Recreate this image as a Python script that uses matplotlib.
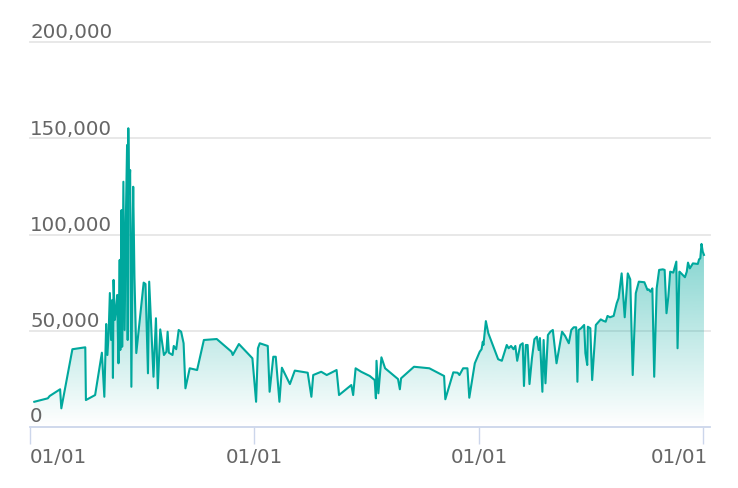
import numpy as np
import matplotlib
matplotlib.use("Agg")
import matplotlib.pyplot as plt
import matplotlib.dates as mdates
from matplotlib.colors import to_rgb
from matplotlib.transforms import blended_transform_factory, ScaledTranslation

# days counted from base_date
base_date = np.datetime64("2019-01-03")
day_offsets = [
    5, 27, 30, 47, 49, 67, 88, 89, 104, 115,
    119, 122, 124, 126, 128, 130, 132, 133, 134, 136,
    138, 140, 141, 142, 144, 145, 147, 148, 150, 152,
    154, 156, 157, 158, 159, 161, 162, 163, 165, 166,
    168, 171,
    183, 186, 190, 192, 199, 203, 206, 210, 216, 220,
    222, 224, 230, 232, 236, 240, 244, 248, 251, 258,
    270, 281, 302, 326, 328, 338, 360, 366, 369, 372,
    385, 388, 394, 398, 404, 408, 421, 429, 450, 456,
    459, 472, 481, 497, 501, 521, 524, 528, 537,
    551, 559, 561, 562, 565, 570, 576, 589, 597, 600,
    602, 623, 648, 672, 674, 687, 694, 697, 703, 710,
    713, 722, 730, 733, 735, 736, 740, 744,
    760, 766, 774, 777, 781, 785, 788, 791, 796, 800,
    802, 805, 808, 811, 815, 819, 823, 826, 828, 832,
    834, 837, 841, 845, 849, 855, 864, 869, 875, 879,
    883, 887, 889, 891, 895, 900, 902, 905, 906, 910,
    913, 919, 927, 931, 935, 938, 942, 948, 953, 956,
    961, 966, 971, 975, 979, 984, 989, 998, 1003, 1005,
    1008, 1011, 1014, 1018, 1022, 1028, 1031, 1034, 1037, 1040,
    1045, 1050, 1052, 1055, 1058, 1064, 1067, 1069, 1072, 1077,
    1085, 1087, 1089, 1091, 1093, 1095,
]
values = [
    13100, 14900, 16100, 19600, 9700, 40400, 41400, 14000, 16600, 38600,
    15700, 53500, 37400, 48800, 69600, 45200, 66000, 25500, 76400, 55600,
    60800, 68600, 48700, 33100, 86800, 40000, 112700, 41700, 127400, 50400,
    107500, 146500, 45200, 155200, 121400, 133500, 72900, 20900, 100800, 124800,
    78100, 38400,
    75000, 74300, 27900, 75500, 26100, 56500, 20100, 50700, 37400, 39100,
    49500, 38600, 37400, 42100, 40400, 50400, 49500, 43500, 20100, 30500,
    29600, 45200, 45700, 39100, 37400, 43100, 35700, 13100, 40900, 43500,
    42100, 18300, 36500, 36500, 13100, 30800, 22300, 29300, 28200, 15700,
    27000, 28700, 27000, 29600, 16600, 21800, 16600, 30500, 28700,
    26500, 24400, 14900, 34400, 17500, 36200, 30500, 27000, 24900, 19600,
    25300, 31300, 30500, 26500, 14400, 28400, 28200, 27000, 30500, 30500,
    15200, 33100, 39100, 40400, 44300, 42600, 55000, 48700,
    35200, 34400, 42600, 40900, 42100, 40400, 42100, 34400, 42600, 43500,
    21300, 42600, 42600, 22300, 35700, 45600, 46900, 40000, 46200, 18300,
    45200, 22700, 47800, 49500, 50400, 33100, 49500, 47300, 43500, 50400,
    51800, 51800, 23500, 50400, 51300, 53000, 38300, 32200, 52100, 51300,
    24400, 53000, 55900, 55200, 54700, 57700, 57000, 57700, 64300, 66900,
    79800, 57000, 79800, 76700, 27000, 69500, 75500, 75200, 71200, 71500,
    70300, 72000, 26100, 72000, 81600, 81900, 81600, 59100, 67700, 80700,
    80200, 85900, 40900, 80700, 79800, 77800, 80700, 85400, 82400, 85000,
    84700, 87100, 87600, 95100, 91100, 89400,
]

y_ticks = [0, 50000, 100000, 150000, 200000]
y_labels = ["0", "50,000", "100,000", "150,000", "200,000"]
x_ticks = ["2019-01-01", "2020-01-01", "2021-01-01", "2022-01-01"]
x_labels = ["01/01", "01/01", "01/01", "01/01"]

line_color = "#00a89d"
text_color = "#666666"
axis_color = "#ccd6eb"
grid_color = "#e6e6e6"

dates = base_date + np.array(day_offsets).astype("timedelta64[D]")
xnum = mdates.date2num(dates)

fig = plt.figure(figsize=(7.38, 4.88), dpi=100)
ax = fig.add_axes([30 / 738, 61 / 488, 679.5 / 738, 385 / 488])

# gradient fill under the line
poly = ax.fill_between(dates, values, 0, facecolor="none", edgecolor="none")
grad = np.zeros((256, 1, 4))
grad[:, :, :3] = to_rgb(line_color)
grad[:, 0, 3] = np.linspace(0.8, 0.0, 256)
img = ax.imshow(grad, aspect="auto", origin="upper", zorder=1,
                extent=[xnum[0], xnum[-1], 0, max(values)])
img.set_clip_path(poly.get_paths()[0], transform=ax.transData)

ax.plot(dates, values, color=line_color, lw=1.5, zorder=3)

ax.set_xlim(mdates.date2num(np.datetime64("2019-01-01")),
            mdates.date2num(np.datetime64("2022-01-11")))
ax.set_ylim(0, 200000)

for v in y_ticks[1:]:
    ax.axhline(v, color=grid_color, lw=1.3, zorder=0, clip_on=False)

for s in ["top", "right", "left"]:
    ax.spines[s].set_visible(False)
ax.spines["bottom"].set_color(axis_color)
ax.spines["bottom"].set_linewidth(1.3)
ax.spines["bottom"].set_zorder(4)

ax.set_yticks([])
tick_pos = [mdates.date2num(np.datetime64(t)) for t in x_ticks]
ax.set_xticks(tick_pos)
ax.set_xticklabels([])
ax.tick_params(axis="x", length=12.2, width=1, color=axis_color)

ytrans = blended_transform_factory(ax.transAxes, ax.transData)
up = ScaledTranslation(0, 3.5 / 100, fig.dpi_scale_trans)
for v, lab in zip(y_ticks, y_labels):
    extra = ScaledTranslation(0, 1.5 / 100, fig.dpi_scale_trans) if v == 0 else ScaledTranslation(0, 0, fig.dpi_scale_trans)
    ax.text(0, v, lab, transform=ytrans + up + extra, ha="left", va="baseline",
            fontsize=14.3, color=text_color)

xtrans = blended_transform_factory(ax.transData, ax.transAxes)
down = ScaledTranslation(0, -(463 - 427) / 100, fig.dpi_scale_trans)
for i, (p, lab) in enumerate(zip(tick_pos, x_labels)):
    if i == 0:
        ax.text(p, 0, lab, transform=xtrans + down, ha="left", va="baseline",
                fontsize=14.3, color=text_color)
    elif i == len(tick_pos) - 1:
        shift = ScaledTranslation(-1.5 / 100, 0, fig.dpi_scale_trans)
        ax.text(1, 0, lab, transform=ax.transAxes + down + shift, ha="right",
                va="baseline", fontsize=14.3, color=text_color)
    else:
        ax.text(p, 0, lab, transform=xtrans + down, ha="center", va="baseline",
                fontsize=14.3, color=text_color)

fig.savefig("out.png", dpi=100)
